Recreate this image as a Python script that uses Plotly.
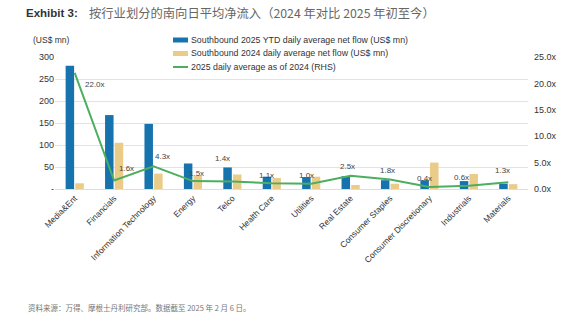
import plotly.graph_objects as go

categories = ["Media&Ent", "Financials", "Information Technology", "Energy", "Telco",
              "Health Care", "Utilities", "Real Estate", "Consumer Staples",
              "Consumer Discretionary", "Industrials", "Materials"]
flow_2025 = [280, 168, 148, 58, 49, 28, 27, 29, 20, 20, 18, 12]
flow_2024 = [13, 105, 35, 30, 33, 25, 28, 9, 12, 60, 34, 11]
ratio = [22.0, 1.6, 4.3, 1.5, 1.4, 1.1, 1.0, 2.5, 1.8, 0.4, 0.6, 1.3]
ratio_labels = [f"{v:.1f}x" for v in ratio]
# label offsets in pixels (dx, dy) relative to each line point
label_dx = [20, 12, 9, 4, -10, -5, -5, -3, -3, -5, -7, -6]
label_dy = [-12, 12, 10, 8, 23, 8, 8, 9, 9, 8, 8, 12]
left_ticks = [0, 50, 100, 150, 200, 250, 300]
left_ticktext = ["-", "50", "100", "150", "200", "250", "300"]
right_ticks = [0, 5, 10, 15, 20, 25]
right_ticktext = [f"{v:.1f}x" for v in right_ticks]
legend_names = ["Southbound 2025 YTD daily average net flow (US$ mn)",
                "Southbound 2024 daily average net flow (US$ mn)",
                "2025 daily average as of 2024 (RHS)"]

BLUE = "#1673ad"
YELLOW = "#eacb87"
GREEN = "#4caf5f"
FONT = "Liberation Sans, Arial, sans-serif"
CJK = "Noto Sans CJK SC, sans-serif"

L, R, T, B = 55, 58, 57, 136
PW, PH = 586 - L - R, 325 - T - B

def px(x):
    return (x - L) / PW

def py(y):
    return (325 - B - y) / PH

fig = go.Figure()
fig.add_trace(go.Bar(x=categories, y=flow_2025, name=legend_names[0],
                     marker_color=BLUE, marker_line_width=0, showlegend=False))
fig.add_trace(go.Bar(x=categories, y=flow_2024, name=legend_names[1],
                     marker_color=YELLOW, marker_line_width=0, showlegend=False))
fig.add_trace(go.Scatter(x=categories, y=ratio, name=legend_names[2],
                         mode="lines", line=dict(color=GREEN, width=2),
                         yaxis="y2", showlegend=False))

fig.update_layout(
    width=586, height=325,
    margin=dict(l=L, r=R, t=T, b=B),
    paper_bgcolor="white", plot_bgcolor="white",
    font=dict(family=FONT, size=9, color="#333333"),
    barmode="group", bargap=0.51, bargroupgap=0.12,
    showlegend=False,
    xaxis=dict(tickangle=-45, tickfont=dict(size=8.5, color="#333333"),
               showline=True, linecolor="#dddddd", linewidth=1, ticks=""),
    yaxis=dict(range=[0, 300], tickvals=left_ticks, ticktext=left_ticktext,
               showgrid=True, gridcolor="#e3e3e3", gridwidth=1, zeroline=False,
               tickfont=dict(size=9, color="#333333")),
    yaxis2=dict(range=[0, 25], tickvals=right_ticks, ticktext=right_ticktext,
                overlaying="y", side="right", showgrid=False, zeroline=False,
                ticklabelstandoff=5,
                tickfont=dict(size=9, color="#333333")),
)

# data labels on the line
for c, v, t, dx, dy in zip(categories, ratio, ratio_labels, label_dx, label_dy):
    fig.add_annotation(x=c, y=v, xref="x", yref="y2", text=t, showarrow=False,
                       xshift=dx, yshift=dy, font=dict(size=8, color="#444444"))

# custom legend
legend_y = [40, 53.5, 67]
for i, (name, yy) in enumerate(zip(legend_names, legend_y)):
    if i < 2:
        fig.add_shape(type="rect", xref="paper", yref="paper",
                      x0=px(173), x1=px(188), y0=py(yy + 2.5), y1=py(yy - 2.5),
                      fillcolor=[BLUE, YELLOW][i], line_width=0)
    else:
        fig.add_shape(type="line", xref="paper", yref="paper",
                      x0=px(173), x1=px(188), y0=py(yy), y1=py(yy),
                      line=dict(color=GREEN, width=2))
    fig.add_annotation(text=name, xref="paper", yref="paper", x=px(189), y=py(yy),
                       xanchor="left", yanchor="middle", showarrow=False,
                       font=dict(size=8.8, color="#333333"))

fig.add_annotation(text="<b>Exhibit 3:</b>", xref="paper", yref="paper",
                   x=px(24), y=py(13), xanchor="left", yanchor="middle",
                   showarrow=False, font=dict(size=11.5, color="#333333"))
fig.add_annotation(text="按行业划分的南向日平均净流入（2024 年对比 2025 年初至今）",
                   xref="paper", yref="paper", x=px(87), y=py(13),
                   xanchor="left", yanchor="middle", showarrow=False,
                   font=dict(size=12.3, color="#666666", family=CJK))
fig.add_annotation(text="(US$ mn)", xref="paper", yref="paper",
                   x=px(31), y=py(40), xanchor="left", yanchor="middle",
                   showarrow=False, font=dict(size=8.5, color="#333333"))
fig.add_annotation(text="资料来源：万得、摩根士丹利研究部。数据截至 2025 年 2 月 6 日。",
                   xref="paper", yref="paper", x=px(26), y=py(307),
                   xanchor="left", yanchor="middle", showarrow=False,
                   font=dict(size=7.5, color="#777777", family=CJK))

fig.write_html("out.html")
